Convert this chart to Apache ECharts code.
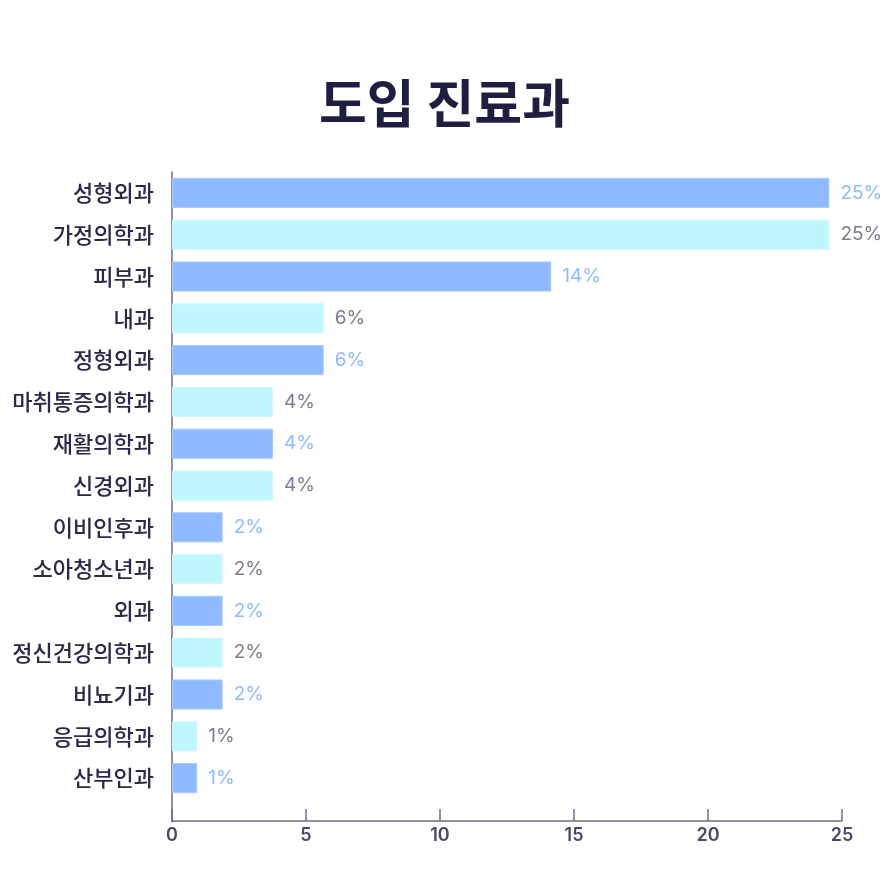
<!DOCTYPE html>
<html><head><meta charset="utf-8">
<script src="https://cdn.jsdelivr.net/npm/echarts@6/dist/echarts.min.js"></script>
<style>html,body{margin:0;padding:0;background:#fff}#c{width:889px;height:889px}</style>
</head><body><div id="c"></div>
<script>
const categories = ['성형외과','가정의학과','피부과','내과','정형외과','마취통증의학과','재활의학과','신경외과','이비인후과','소아청소년과','외과','정신건강의학과','비뇨기과','응급의학과','산부인과'];
const values = [24.53, 24.53, 14.15, 5.66, 5.66, 3.77, 3.77, 3.77, 1.89, 1.89, 1.89, 1.89, 1.89, 0.94, 0.94];
const xTicks = [0, 5, 10, 15, 20, 25];
const colorA = '#8fbaff', colorB = '#c0f6fd';
const labelA = '#8fbaff', labelB = '#7d7b92';
const font = "Inter, 'Noto Sans CJK KR', sans-serif";
const axisColor = '#6e6c86';
const chart = echarts.init(document.getElementById('c'));
chart.setOption({
  animation: false,
  title: { text: '도입 진료과', left: 'center', top: 72,
    textStyle: { fontSize: 52, fontWeight: 'bold', color: '#1e1e40', fontFamily: "'Noto Sans CJK KR', sans-serif" } },
  grid: [
    { left: 172, right: 47, top: 172, bottom: 90 },
    { left: 172, right: 47, top: 172, bottom: 67 }
  ],
  xAxis: [
    { type: 'value', gridIndex: 0, min: 0, max: 25, interval: 5, offset: 22,
      axisLine: { show: true, lineStyle: { color: axisColor, width: 1.5 } },
      axisTick: { show: true, inside: true, length: 12, lineStyle: { color: axisColor, width: 1.5 } },
      splitLine: { show: false },
      axisLabel: { color: '#4a4866', fontSize: 18, fontWeight: 600, fontFamily: font, margin: 6,
        formatter: v => xTicks.includes(v) ? String(v) : '' } },
    { type: 'value', gridIndex: 1, min: 0, max: 25, show: false }
  ],
  yAxis: [
    { type: 'category', gridIndex: 0, data: categories, inverse: true,
      axisLine: { show: false }, axisTick: { show: false },
      axisLabel: { color: '#2a2a48', fontSize: 22, fontWeight: 500, fontFamily: "'Noto Sans CJK KR', sans-serif", margin: 18 } },
    { type: 'category', gridIndex: 1, data: [''],
      axisLine: { show: true, lineStyle: { color: axisColor, width: 1.5 } },
      axisTick: { show: false }, axisLabel: { show: false } }
  ],
  series: [{
    type: 'bar', xAxisIndex: 0, yAxisIndex: 0, barCategoryGap: '28%',
    data: values.map((v, i) => ({ value: v,
      itemStyle: { color: i % 2 === 0 ? colorA : colorB, borderColor: i % 2 === 0 ? '#a8c9ff' : '#d2f8fe', borderWidth: 1 },
      label: { color: i % 2 === 0 ? labelA : labelB } })),
    label: { show: true, position: 'right', distance: 11, fontSize: 19, fontFamily: font,
      formatter: p => Math.round(p.value) + '%' }
  }]
});
</script></body></html>
